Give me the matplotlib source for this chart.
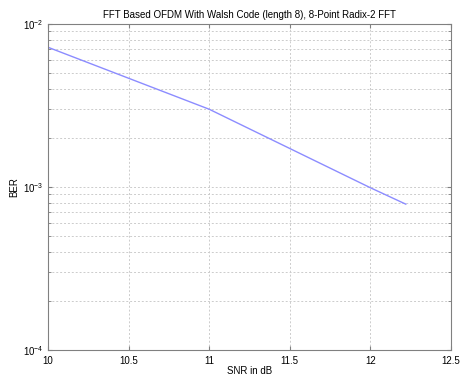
import matplotlib
matplotlib.use("Agg")
from matplotlib import pyplot as plt

snr = [10, 11, 12, 12.22]
ber = [0.0072, 0.0030, 0.00099, 0.000785]
x_ticks = [10, 10.5, 11, 11.5, 12, 12.5]
x_labels = ["10", "10.5", "11", "11.5", "12", "12.5"]

plt.rcParams["font.family"] = ["Liberation Sans", "DejaVu Sans"]
plt.rcParams["font.size"] = 7

fig = plt.figure(figsize=(4.62, 3.77), dpi=100)
ax = fig.add_axes([0.104, 0.0716, 0.872, 0.8647])

ax.semilogy(snr, ber, color="#8c8cff", linewidth=1.0)
ax.set_xlim(10, 12.5)
ax.set_ylim(1e-4, 1e-2)
ax.set_xticks(x_ticks)
ax.set_xticklabels(x_labels)

ax.grid(True, which="major", linestyle=(0, (2, 2)), color="#cccccc", linewidth=0.7)
ax.grid(True, which="minor", axis="y", linestyle=(0, (2, 2)), color="#cccccc", linewidth=0.7)
ax.tick_params(which="both", direction="in", top=True, right=True, colors="#808080",
               labelcolor="black", labelsize=7)
ax.tick_params(axis="x", pad=4)
ax.tick_params(axis="y", pad=3)
ax.tick_params(which="major", length=3)
ax.tick_params(which="minor", length=2)
for s in ax.spines.values():
    s.set_color("#808080")
    s.set_linewidth(0.8)

ax.set_xlabel("SNR in dB", fontsize=7, labelpad=0)
ax.set_ylabel("BER", fontsize=7, labelpad=3)
ax.set_title("FFT Based OFDM With Walsh Code (length 8), 8-Point Radix-2 FFT", fontsize=7, pad=4)

fig.savefig("out.png", dpi=100)
